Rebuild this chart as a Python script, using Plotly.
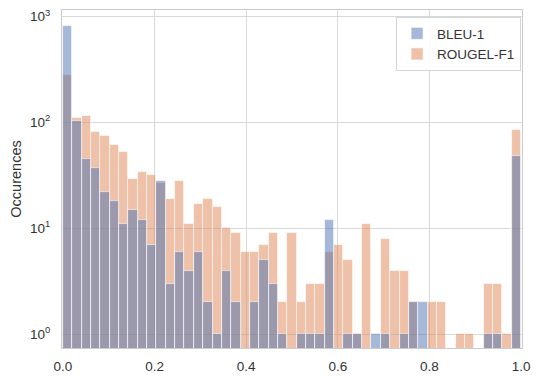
import numpy as np
import plotly.graph_objects as go

# Histogram counts over 49 equal-width bins spanning [0, 1]
n_bins = 49
bleu_counts = [808, 103, 45, 37, 22, 18, 11, 15, 12, 7,
               28, 3, 6, 4, 6, 2, 1, 4, 2, 0,
               2, 5, 3, 1, 0, 1, 1, 1, 12, 0,
               1, 1, 0, 1, 1, 0, 1, 2, 2, 0,
               0, 0, 0, 0, 0, 1, 1, 0, 48]
rouge_counts = [283, 110, 114, 82, 75, 61, 53, 29, 34, 32,
                27, 19, 28, 11, 17, 19, 16, 10, 9, 6,
                6, 7, 9, 2, 9, 2, 3, 3, 6, 7,
                5, 1, 11, 0, 8, 4, 4, 2, 0, 2,
                2, 0, 1, 1, 0, 3, 3, 1, 85]
series_names = ["BLEU-1", "ROUGEL-F1"]
series_colors = ["rgba(76,114,176,0.5)", "rgba(221,132,82,0.5)"]

edges = np.linspace(0.0, 1.0, n_bins + 1)
centers = (edges[:-1] + edges[1:]) / 2
width = edges[1] - edges[0]


def masked(counts):
    # empty bins are left blank on the log scale
    return [c if c > 0 else None for c in counts]


fig = go.Figure()
# orange drawn first so the blue layer sits on top
fig.add_trace(go.Bar(
    x=centers, y=masked(rouge_counts), width=width,
    name=series_names[1], marker=dict(color=series_colors[1],
                                      line=dict(color="rgba(255,255,255,0.75)", width=0.8)),
    legendrank=2,
))
fig.add_trace(go.Bar(
    x=centers, y=masked(bleu_counts), width=width,
    name=series_names[0], marker=dict(color=series_colors[0],
                                      line=dict(color="rgba(255,255,255,0.75)", width=0.8)),
    legendrank=1,
))

font_family = "Liberation Sans, Arial, sans-serif"
text_color = "#333333"
fig.update_layout(
    width=537, height=381,
    margin=dict(l=62, r=9, t=7, b=29),
    barmode="overlay",
    bargap=0,
    plot_bgcolor="white",
    paper_bgcolor="white",
    font=dict(family=font_family, size=13.5, color=text_color),
    legend=dict(
        x=0.998, xanchor="right", y=0.979, yanchor="top",
        bgcolor="rgba(255,255,255,0.85)", bordercolor="#d5d5d5", borderwidth=1,
        font=dict(size=13.5, color=text_color),
        tracegroupgap=2,
    ),
    showlegend=True,
)
fig.update_xaxes(
    range=[-0.002, 1.002],
    tickvals=[0, 0.2, 0.4, 0.6, 0.8, 1.0],
    ticktext=["0.0", "0.2", "0.4", "0.6", "0.8", "1.0"],
    tickfont=dict(size=13.5, color=text_color),
    showgrid=True, gridcolor="#d9d9d9", gridwidth=1,
    showline=True, linecolor="#cccccc", linewidth=1.2, mirror=True,
    zeroline=False, ticks="", ticklabelstandoff=6,
)
fig.update_yaxes(
    type="log",
    range=[-0.129, 3.061],
    tickvals=[1, 10, 100, 1000],
    ticktext=["10<sup>0</sup>", "10<sup>1</sup>", "10<sup>2</sup>", "10<sup>3</sup>"],
    tickfont=dict(size=13.5, color=text_color),
    showgrid=True, gridcolor="#d9d9d9", gridwidth=1,
    showline=True, linecolor="#cccccc", linewidth=1.2, mirror=True,
    zeroline=False, ticks="", ticklabelstandoff=8,
    title=dict(text="Occurences", font=dict(size=14.5, color=text_color), standoff=4),
)

fig.write_html("out.html")
